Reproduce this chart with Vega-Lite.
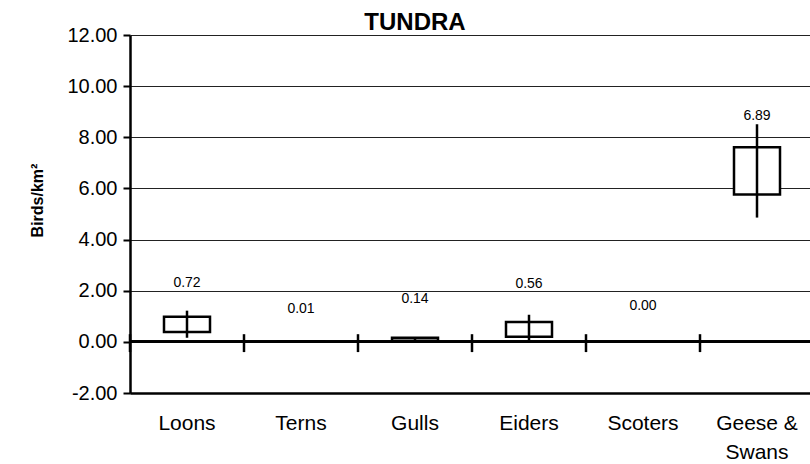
{
  "$schema": "https://vega.github.io/schema/vega-lite/v6.json",
  "autosize": "none",
  "padding": {"left": 130, "top": 35, "right": 0, "bottom": 71},
  "width": 684,
  "height": 358,
  "background": "white",
  "title": {"text": "TUNDRA", "font": "Liberation Sans", "fontSize": 24, "fontWeight": "bold", "color": "black", "dx": -57, "offset": -10, "frame": "group"},
  "config": {
    "view": {"stroke": null},
    "font": "Liberation Sans"
  },
  "data": {
    "values": [
      {"group": "Loons", "mean": 0.72, "boxLo": 0.39, "boxHi": 0.98, "whLo": 0.16, "whHi": 1.22, "labelY": 2.3},
      {"group": "Terns", "mean": 0.01, "boxLo": 0.0, "boxHi": 0.02, "whLo": 0.0, "whHi": 0.03, "labelY": 1.3},
      {"group": "Gulls", "mean": 0.14, "boxLo": 0.04, "boxHi": 0.16, "whLo": 0.04, "whHi": 0.18, "labelY": 1.69},
      {"group": "Eiders", "mean": 0.56, "boxLo": 0.2, "boxHi": 0.78, "whLo": 0.06, "whHi": 1.06, "labelY": 2.28},
      {"group": "Scoters", "mean": 0.0, "boxLo": 0.0, "boxHi": 0.0, "whLo": 0.0, "whHi": 0.0, "labelY": 1.4},
      {"group": "Geese & Swans", "mean": 6.89, "boxLo": 5.76, "boxHi": 7.61, "whLo": 4.86, "whHi": 8.51, "labelY": 8.82}
    ]
  },
  "encoding": {
    "x": {
      "field": "group", "type": "nominal", "sort": null,
      "scale": {"paddingInner": 0, "paddingOuter": 0},
      "axis": {
        "title": null, "labelAngle": 0, "ticks": false,
        "labelFont": "Liberation Sans", "labelFontSize": 21, "labelColor": "black",
        "labelPadding": 19, "labelLineHeight": 29,
        "labelExpr": "datum.label == 'Geese & Swans' ? ['Geese &', 'Swans'] : datum.label",
        "domainColor": "black", "domainWidth": 2.5, "grid": false
      }
    }
  },
  "layer": [
    {
      "mark": {"type": "rule", "color": "black", "strokeWidth": 2.5},
      "encoding": {"x": null, "y": {"datum": 0, "type": "quantitative", "scale": {"domain": [-2, 12], "nice": false, "zero": false}}}
    },
    {
      "mark": {"type": "rule", "color": "black", "strokeWidth": 2.5, "xOffset": -57},
      "encoding": {"y": {"datum": -0.4, "type": "quantitative"}, "y2": {"datum": 0.3}}
    },
    {
      "mark": {"type": "bar", "size": 46, "fill": "white", "stroke": "black", "strokeWidth": 2.5},
      "encoding": {
        "y": {
          "field": "boxLo", "type": "quantitative",
          "scale": {"domain": [-2, 12], "nice": false, "zero": false},
          "axis": {
            "title": "Birds/km²", "titleFont": "Liberation Sans", "titleFontSize": 16, "titleFontWeight": "bold", "titleColor": "black",
            "titleX": -93, "titleY": 165, "titleAngle": -90, "titleAlign": "center", "titleBaseline": "middle",
            "values": [-2, 0, 2, 4, 6, 8, 10, 12],
            "labelExpr": "datum.value < 0 ? '-' + format(-datum.value, '.2f') : format(datum.value, '.2f')",
            "labelFont": "Liberation Sans", "labelFontSize": 20, "labelColor": "black", "labelPadding": 6,
            "tickColor": "black", "tickSize": 7, "tickWidth": 2,
            "domainColor": "black", "domainWidth": 2.5,
            "grid": true, "gridColor": "#222222", "gridWidth": 1
          }
        },
        "y2": {"field": "boxHi"}
      }
    },
    {
      "mark": {"type": "rule", "color": "black", "strokeWidth": 2.5},
      "encoding": {
        "y": {"field": "whLo", "type": "quantitative"},
        "y2": {"field": "whHi"}
      }
    },
    {
      "mark": {"type": "text", "font": "Liberation Sans", "fontSize": 14, "color": "black"},
      "encoding": {
        "y": {"field": "labelY", "type": "quantitative"},
        "text": {"field": "mean", "type": "quantitative", "format": ".2f"}
      }
    }
  ]
}
